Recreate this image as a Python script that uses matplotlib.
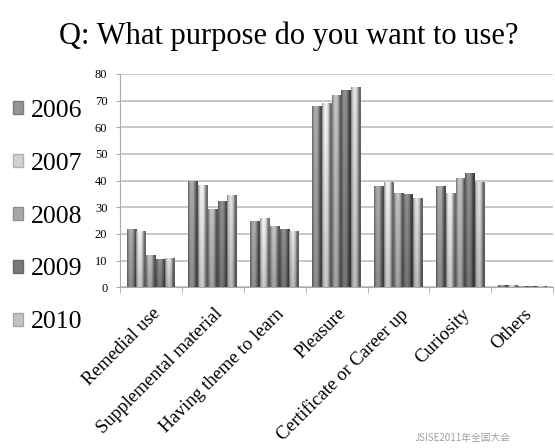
import numpy as np
import matplotlib.pyplot as plt
import matplotlib.transforms as mtransforms
from matplotlib.patches import Patch

# data
categories = ["Remedial use", "Supplemental material", "Having theme to learn",
              "Pleasure", "Certificate or Career up", "Curiosity", "Others"]
years = ["2006", "2007", "2008", "2009", "2010"]
v2006 = [22, 40, 25, 68, 38, 38, 1.0]
v2007 = [21, 38.5, 26, 69, 39.5, 35.5, 1.0]
v2008 = [12, 29.5, 23, 72, 35.5, 41, 0.6]
v2009 = [10.5, 32.5, 22, 74, 35, 43, 0.3]
v2010 = [11, 34.5, 21, 75, 33.5, 39.5, 0.3]
series = [v2006, v2007, v2008, v2009, v2010]
base_grays = [0.58, 0.82, 0.66, 0.48, 0.76]

serif = "Liberation Serif"

fig = plt.figure(figsize=(5.55, 4.48), dpi=100)
ax = fig.add_axes([0.216, 0.359, 0.781, 0.476])

x = np.arange(len(categories))
w = 0.157
# cylinder-like shading: dark edges, highlight left of centre, darker towards the bottom
prof = np.linspace(0, 1, 40)
across = 0.62 + 0.6 * np.sin(np.pi * np.clip(prof * 1.25, 0, 1)) ** 0.7 - 0.1 * prof
down = np.linspace(0.82, 1.0, 30)

handles = []
for i, (vals, g) in enumerate(zip(series, base_grays)):
    bars = ax.bar(x + (i - 2) * w, vals, w, color=str(g), edgecolor="none", zorder=2)
    cols = np.clip(g * np.outer(down, across), 0, 1)
    img = np.dstack([cols, cols, cols])
    for b in bars:
        bx, by = b.get_x(), b.get_y()
        bw, bh = b.get_width(), b.get_height()
        im = ax.imshow(img, extent=[bx, bx + bw, by, by + bh], aspect="auto",
                       origin="lower", zorder=3, interpolation="bilinear")
        im.set_clip_path(b)
    handles.append(Patch(facecolor=str(g), edgecolor=str(g * 0.85), label=years[i]))

ax.set_xlim(-0.5, len(categories) - 0.5)
ax.set_ylim(0, 80)
ax.set_yticks(range(0, 81, 10))
ax.yaxis.grid(True, color="#c4c4c4", linewidth=1.3, zorder=0)
ax.set_axisbelow(True)
for s in ["top", "right"]:
    ax.spines[s].set_visible(False)
for s in ["left", "bottom"]:
    ax.spines[s].set_color("#aaaaaa")
ax.tick_params(axis="y", length=3, color="#aaaaaa", labelsize=9, pad=6)
for t in ax.get_yticklabels():
    t.set_fontfamily(serif)

ax.set_xticks(x)
ax.set_xticklabels(categories, rotation=45, ha="right", rotation_mode="anchor",
                   fontfamily=serif, fontsize=13.5)
ax.tick_params(axis="x", length=0, pad=13)
shift = mtransforms.ScaledTranslation(1 / 100, 0, fig.dpi_scale_trans)
for t in ax.get_xticklabels():
    t.set_transform(t.get_transform() + shift)
ax.set_xticks(np.arange(-0.5, len(categories), 1), minor=True)
ax.tick_params(axis="x", which="minor", length=4, color="#aaaaaa")

fig.text(0.52, 0.92, "Q: What purpose do you want to use?", ha="center", va="center",
         fontfamily=serif, fontsize=22)

fig.legend(handles=handles, loc="upper left", bbox_to_anchor=(0.005, 0.8),
           frameon=False, prop={"family": serif, "size": 18.5},
           handlelength=0.4, handleheight=0.4, handletextpad=0.3,
           labelspacing=1.2, borderaxespad=0)

fig.text(0.92, 0.022, "JSISE2011年全国大会", ha="right", va="center",
         fontfamily=["Noto Sans CJK JP", "DejaVu Sans"], fontsize=7, color="#a0a0a0")

fig.savefig("out.png", dpi=100)
